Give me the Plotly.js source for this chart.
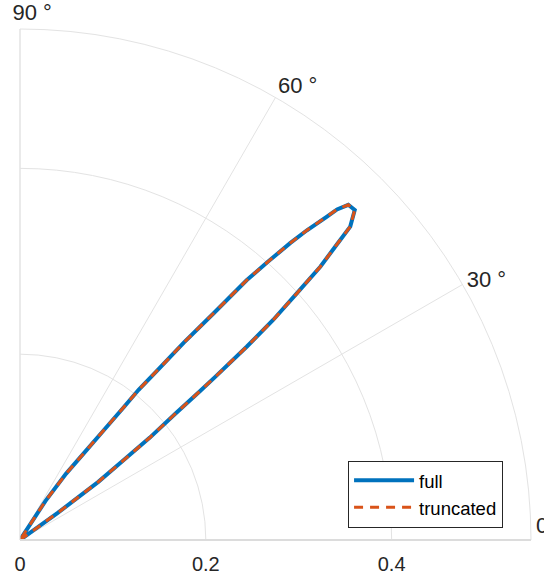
<!DOCTYPE html>
<html>
<head>
<meta charset="utf-8">
<script src="https://cdn.plot.ly/plotly-3.0.1.min.js"></script>
<style>html,body{margin:0;padding:0;background:#fff;}#chart{width:544px;height:576px;}</style>
</head>
<body>
<div id="chart"></div>
<script>
// angle in degrees, radius values
const thetaFull = [35.5, 35.7, 36.6, 37.65, 38.25, 39.1, 39.6, 39.9, 40.45, 41.0, 41.7, 42.3, 43.0, 43.5, 44.6, 45.6, 46.2, 46.5, 47.2, 47.7, 48.3, 48.9, 49.5, 50.3, 51.0, 51.7, 52.0, 52.65, 53.5, 55.2, 56.9, 57.5];
const rFull     = [0.0, 0.05, 0.105, 0.143, 0.178, 0.215, 0.252, 0.275, 0.321, 0.361, 0.399, 0.437, 0.466, 0.490, 0.506, 0.505, 0.493, 0.480, 0.454, 0.432, 0.401, 0.371, 0.321, 0.276, 0.235, 0.206, 0.181, 0.149, 0.120, 0.087, 0.05, 0.0];
const thetaTrunc = thetaFull.slice();
const rTrunc     = rFull.slice();
const seriesNames = ['full', 'truncated'];
const angTicks = [0, 30, 60, 90];
const angTickText = ['0 °<br> ', '30 °', '60 °', '\u00a0\u00a0\u00a0\u00a090 °'];
const radTicks = [0, 0.2, 0.4];
const radTickText = ['0', '0.2', '0.4'];

const traces = [
  {type: 'scatterpolar', mode: 'lines', name: seriesNames[0], theta: thetaFull, r: rFull,
   line: {color: '#0072BD', width: 4}},
  {type: 'scatterpolar', mode: 'lines', name: seriesNames[1], theta: thetaTrunc, r: rTrunc,
   line: {color: '#D95319', width: 3, dash: '9px,7px'}}
];

const layout = {
  width: 544, height: 576,
  margin: {l: 20, r: 13, t: 29, b: 36, pad: 0},
  paper_bgcolor: '#ffffff',
  font: {family: 'Liberation Sans, Arial, sans-serif', color: '#262626', size: 20},
  showlegend: true,
  legend: {x: 0.642, y: 0.155, xanchor: 'left', yanchor: 'top',
           bgcolor: '#ffffff', bordercolor: '#262626', borderwidth: 1,
           font: {size: 18.5, color: '#000000'}, itemwidth: 60},
  polar: {
    domain: {x: [0, 1], y: [0, 1]},
    sector: [0, 90],
    bgcolor: '#ffffff',
    radialaxis: {range: [0, 0.55], tickvals: radTicks, ticktext: radTickText, angle: 0, side: 'clockwise',
                 showline: true, linecolor: '#dcdcdc', linewidth: 2, gridcolor: '#e3e3e3', gridwidth: 1,
                 ticks: 'outside', ticklen: 6, tickcolor: 'rgba(0,0,0,0)',
                 tickfont: {size: 20, color: '#262626'}},
    angularaxis: {tickvals: angTicks, ticktext: angTickText, direction: 'counterclockwise', rotation: 0,
                  showline: true, linecolor: '#e3e3e3', linewidth: 1, gridcolor: '#e3e3e3', gridwidth: 1,
                  ticks: '', tickfont: {size: 22, color: '#262626'}}
  }
};

Plotly.newPlot('chart', traces, layout, {displayModeBar: false, staticPlot: true});
</script>
</body>
</html>
